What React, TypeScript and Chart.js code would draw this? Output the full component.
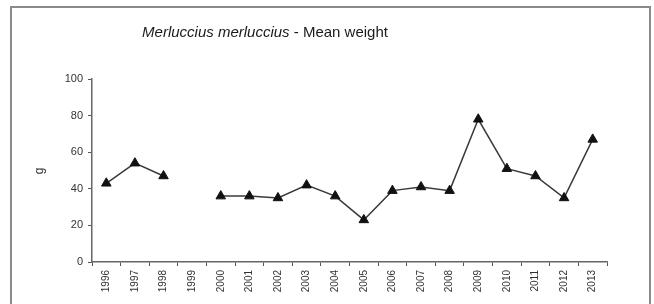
import React, { useEffect, useRef } from "react";
import { Chart, registerables } from "chart.js";

Chart.register(...registerables);

const years = [
  "1996", "1997", "1998", "1999", "2000", "2001", "2002", "2003", "2004",
  "2005", "2006", "2007", "2008", "2009", "2010", "2011", "2012", "2013",
];
const meanWeight: (number | null)[] = [
  43, 54, 47, null, 36, 36, 35, 42, 36, 23, 39, 41, 39, 78, 51, 47, 35, 67,
];
const yTicks = [0, 20, 40, 60, 80, 100];
const titleItalic = "Merluccius merluccius";
const titleRest = " - Mean weight";
const yAxisLabel = "g";

const FONT = "'Liberation Sans', Arial, sans-serif";

const decorPlugin = {
  id: "decor",
  afterDraw(chart: any) {
    const ctx = chart.ctx as CanvasRenderingContext2D;
    ctx.save();
    // outer frame
    ctx.strokeStyle = "#8a8a8a";
    ctx.lineWidth = 2;
    ctx.strokeRect(11, 7, 639, 310);
    // title
    ctx.fillStyle = "#1a1a1a";
    ctx.textBaseline = "middle";
    ctx.font = `italic 15px ${FONT}`;
    const w1 = ctx.measureText(titleItalic).width;
    ctx.font = `15px ${FONT}`;
    const w2 = ctx.measureText(titleRest).width;
    const cx = 265;
    const startX = cx - (w1 + w2) / 2;
    ctx.font = `italic 15px ${FONT}`;
    ctx.textAlign = "left";
    ctx.fillText(titleItalic, startX, 33);
    ctx.font = `15px ${FONT}`;
    ctx.fillText(titleRest, startX + w1, 33);
    // y axis label
    ctx.translate(40, 171);
    ctx.rotate(-Math.PI / 2);
    ctx.textAlign = "center";
    ctx.font = `12px ${FONT}`;
    ctx.fillStyle = "#333";
    ctx.fillText(yAxisLabel, 0, 0);
    ctx.restore();
  },
};

export default function App() {
  const ref = useRef<HTMLCanvasElement>(null);
  useEffect(() => {
    if (!ref.current) return;
    const chart = new Chart(ref.current, {
      type: "line",
      data: {
        labels: years,
        datasets: [
          {
            data: meanWeight,
            borderColor: "#3a3a3a",
            borderWidth: 1.5,
            pointStyle: "triangle",
            pointRadius: 5.5,
            pointBackgroundColor: "#111",
            pointBorderColor: "#111",
            pointBorderWidth: 1,
            spanGaps: false,
            tension: 0,
          },
        ],
      },
      options: {
        responsive: false,
        animation: false,
        events: [],
        layout: { padding: { left: 0, right: 47, top: 79, bottom: 0 } },
        plugins: {
          legend: { display: false },
          tooltip: { enabled: false },
          title: { display: false },
        },
        scales: {
          x: {
            type: "category",
            offset: true,
            grid: {
              offset: true,
              drawOnChartArea: false,
              drawTicks: true,
              tickLength: 4,
              color: "#555",
            },
            border: { display: true, color: "#666", width: 1.5 },
            ticks: {
              autoSkip: false,
              minRotation: 90,
              maxRotation: 90,
              padding: 4,
              color: "#333",
              font: { family: FONT, size: 10 },
            },
            afterFit(scale: any) {
              scale.height = 42;
            },
          },
          y: {
            min: 0,
            max: 100,
            afterBuildTicks(scale: any) {
              scale.ticks = yTicks.map((v) => ({ value: v }));
            },
            grid: {
              drawOnChartArea: false,
              drawTicks: true,
              tickLength: 4,
              color: "#555",
            },
            border: { display: true, color: "#666", width: 1.5 },
            ticks: {
              padding: 5,
              color: "#333",
              font: { family: FONT, size: 11 },
            },
            afterFit(scale: any) {
              scale.width = 92;
            },
          },
        },
      },
      plugins: [decorPlugin],
    });
    return () => chart.destroy();
  }, []);
  return (
    <div style={{ position: "fixed", left: 0, top: 0, width: 654, height: 304, background: "#fff" }}>
      <canvas ref={ref} width={654} height={304} style={{ display: "block" }} />
    </div>
  );
}
